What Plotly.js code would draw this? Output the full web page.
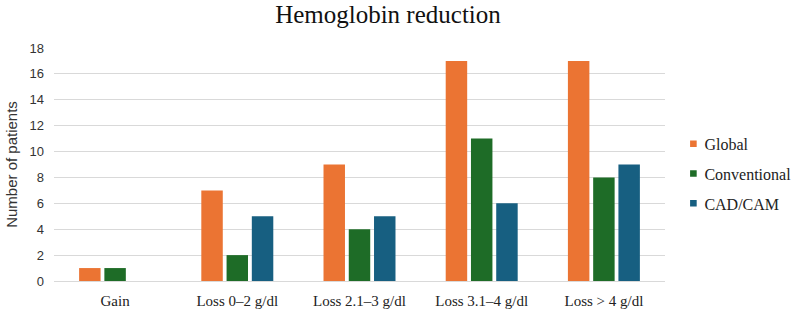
<!DOCTYPE html>
<html>
<head>
<meta charset="utf-8">
<script src="https://cdn.plot.ly/plotly-3.0.1.min.js"></script>
<style>
html,body{margin:0;padding:0;background:#fff;}
#chart{width:795px;height:315px;}
</style>
</head>
<body>
<div id="chart"></div>
<script>
// Hemoglobin change groups and patient counts per technique
const categories = ["Gain", "Loss 0–2 g/dl", "Loss 2.1–3 g/dl", "Loss 3.1–4 g/dl", "Loss > 4 g/dl"];
const globalCounts = [1, 7, 9, 17, 17];
const conventionalCounts = [1, 2, 4, 11, 8];
const cadcamCounts = [0, 5, 5, 6, 9];
const yTicks = [0, 2, 4, 6, 8, 10, 12, 14, 16, 18];

const serif = "Liberation Serif, DejaVu Serif, serif";
const sans = "Liberation Sans, Arial, sans-serif";

function series(name, values, color) {
  return { type: "bar", name: name, x: categories, y: values, legendgroup: name,
           marker: { color: color }, hoverinfo: "x+y+name" };
}

const data = [
  series("Global", globalCounts, "#EB7433"),
  series("Conventional", conventionalCounts, "#1E6C27"),
  series("CAD/CAM", cadcamCounts, "#175F81")
];

const layout = {
  width: 795, height: 315,
  margin: { l: 54, r: 130, t: 48, b: 34, autoexpand: false },
  paper_bgcolor: "#fff", plot_bgcolor: "#fff",
  title: { text: "Hemoglobin reduction", x: 0.488, xanchor: "center", y: 0.955, yanchor: "middle",
           font: { family: serif, size: 25, color: "#111" } },
  barmode: "group", bargap: 0.38, bargroupgap: 0.15,
  xaxis: { type: "category", showgrid: false, zeroline: false, showline: false,
           ticks: "", ticklabelstandoff: 9, tickfont: { family: serif, size: 15, color: "#222" } },
  yaxis: { range: [0, 18], tickvals: yTicks, showgrid: true, gridcolor: "#d9d9d9", gridwidth: 1,
           zeroline: true, zerolinecolor: "#d9d9d9", showline: false, ticks: "",
           ticklabelstandoff: 9,
           tickfont: { family: sans, size: 13, color: "#333" },
           title: { text: "Number of patients", standoff: 8, font: { family: sans, size: 15, color: "#333" } } },
  legend: { x: 0.999, xanchor: "left", y: 0.46, yanchor: "middle", traceorder: "grouped", tracegroupgap: 6,
            itemwidth: 30, font: { family: serif, size: 16, color: "#222" }, bgcolor: "rgba(0,0,0,0)" },
  showlegend: true
};

Plotly.newPlot("chart", data, layout, { displayModeBar: false, staticPlot: true }).then(function (gd) {
  // shrink the legend swatches to small squares placed close to their labels
  gd.querySelectorAll(".legend .legendpoints path").forEach(function (p) {
    const t = p.getAttribute("transform") || "";
    p.setAttribute("transform", "translate(9,0) " + t + " scale(0.55)");
  });
});
</script>
</body>
</html>
